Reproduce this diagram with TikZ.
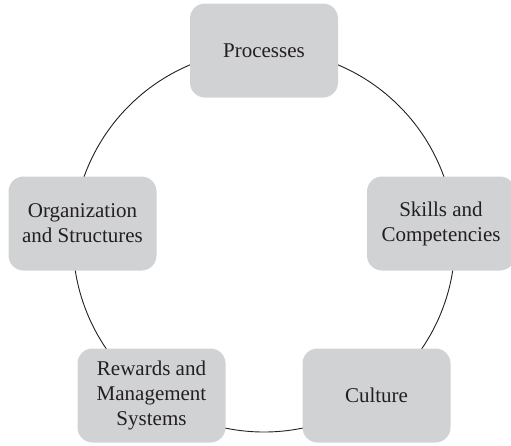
\documentclass[tikz,border=0pt]{standalone}
\usepackage{fontspec}
\setmainfont{Liberation Serif}
\usepackage{tikz}
\usepackage{xcolor}
\usetikzlibrary{positioning,backgrounds}
\definecolor{boxgrey}{HTML}{D1D2D4}
\definecolor{inkblack}{HTML}{231F20}
\tikzset{
  block/.style={
    fill=boxgrey, rounded corners=15pt, align=center, inner sep=4pt,
    minimum width=148pt, minimum height=94pt, text=inkblack,
    font=\fontsize{21}{25}\selectfont,
  },
  ring/.style={draw=inkblack, line width=0.9pt},
}
\begin{document}
\begin{tikzpicture}[x=1pt, y=-1pt]
\useasboundingbox (0,0) rectangle (511,445);

% hub of the cycle
\coordinate (hub) at (264,241);

% the five blocks
\node[block] (proc)    at (264,50.5)   {Processes};
\node[block] (skills)  at (441,223.5)  {Skills and\\Competencies};
\node[block] (culture) at (376.5,395.5) {Culture};
\node[block] (rewards) at (151.5,395.5) {Rewards and\\Management\\Systems};
\node[block] (org)     at (82.5,223.5) {Organization\\and Structures};

% ring behind the blocks
\begin{scope}[on background layer]
  \draw[ring] (hub) circle[radius=191pt];
\end{scope}

\end{tikzpicture}
\end{document}
